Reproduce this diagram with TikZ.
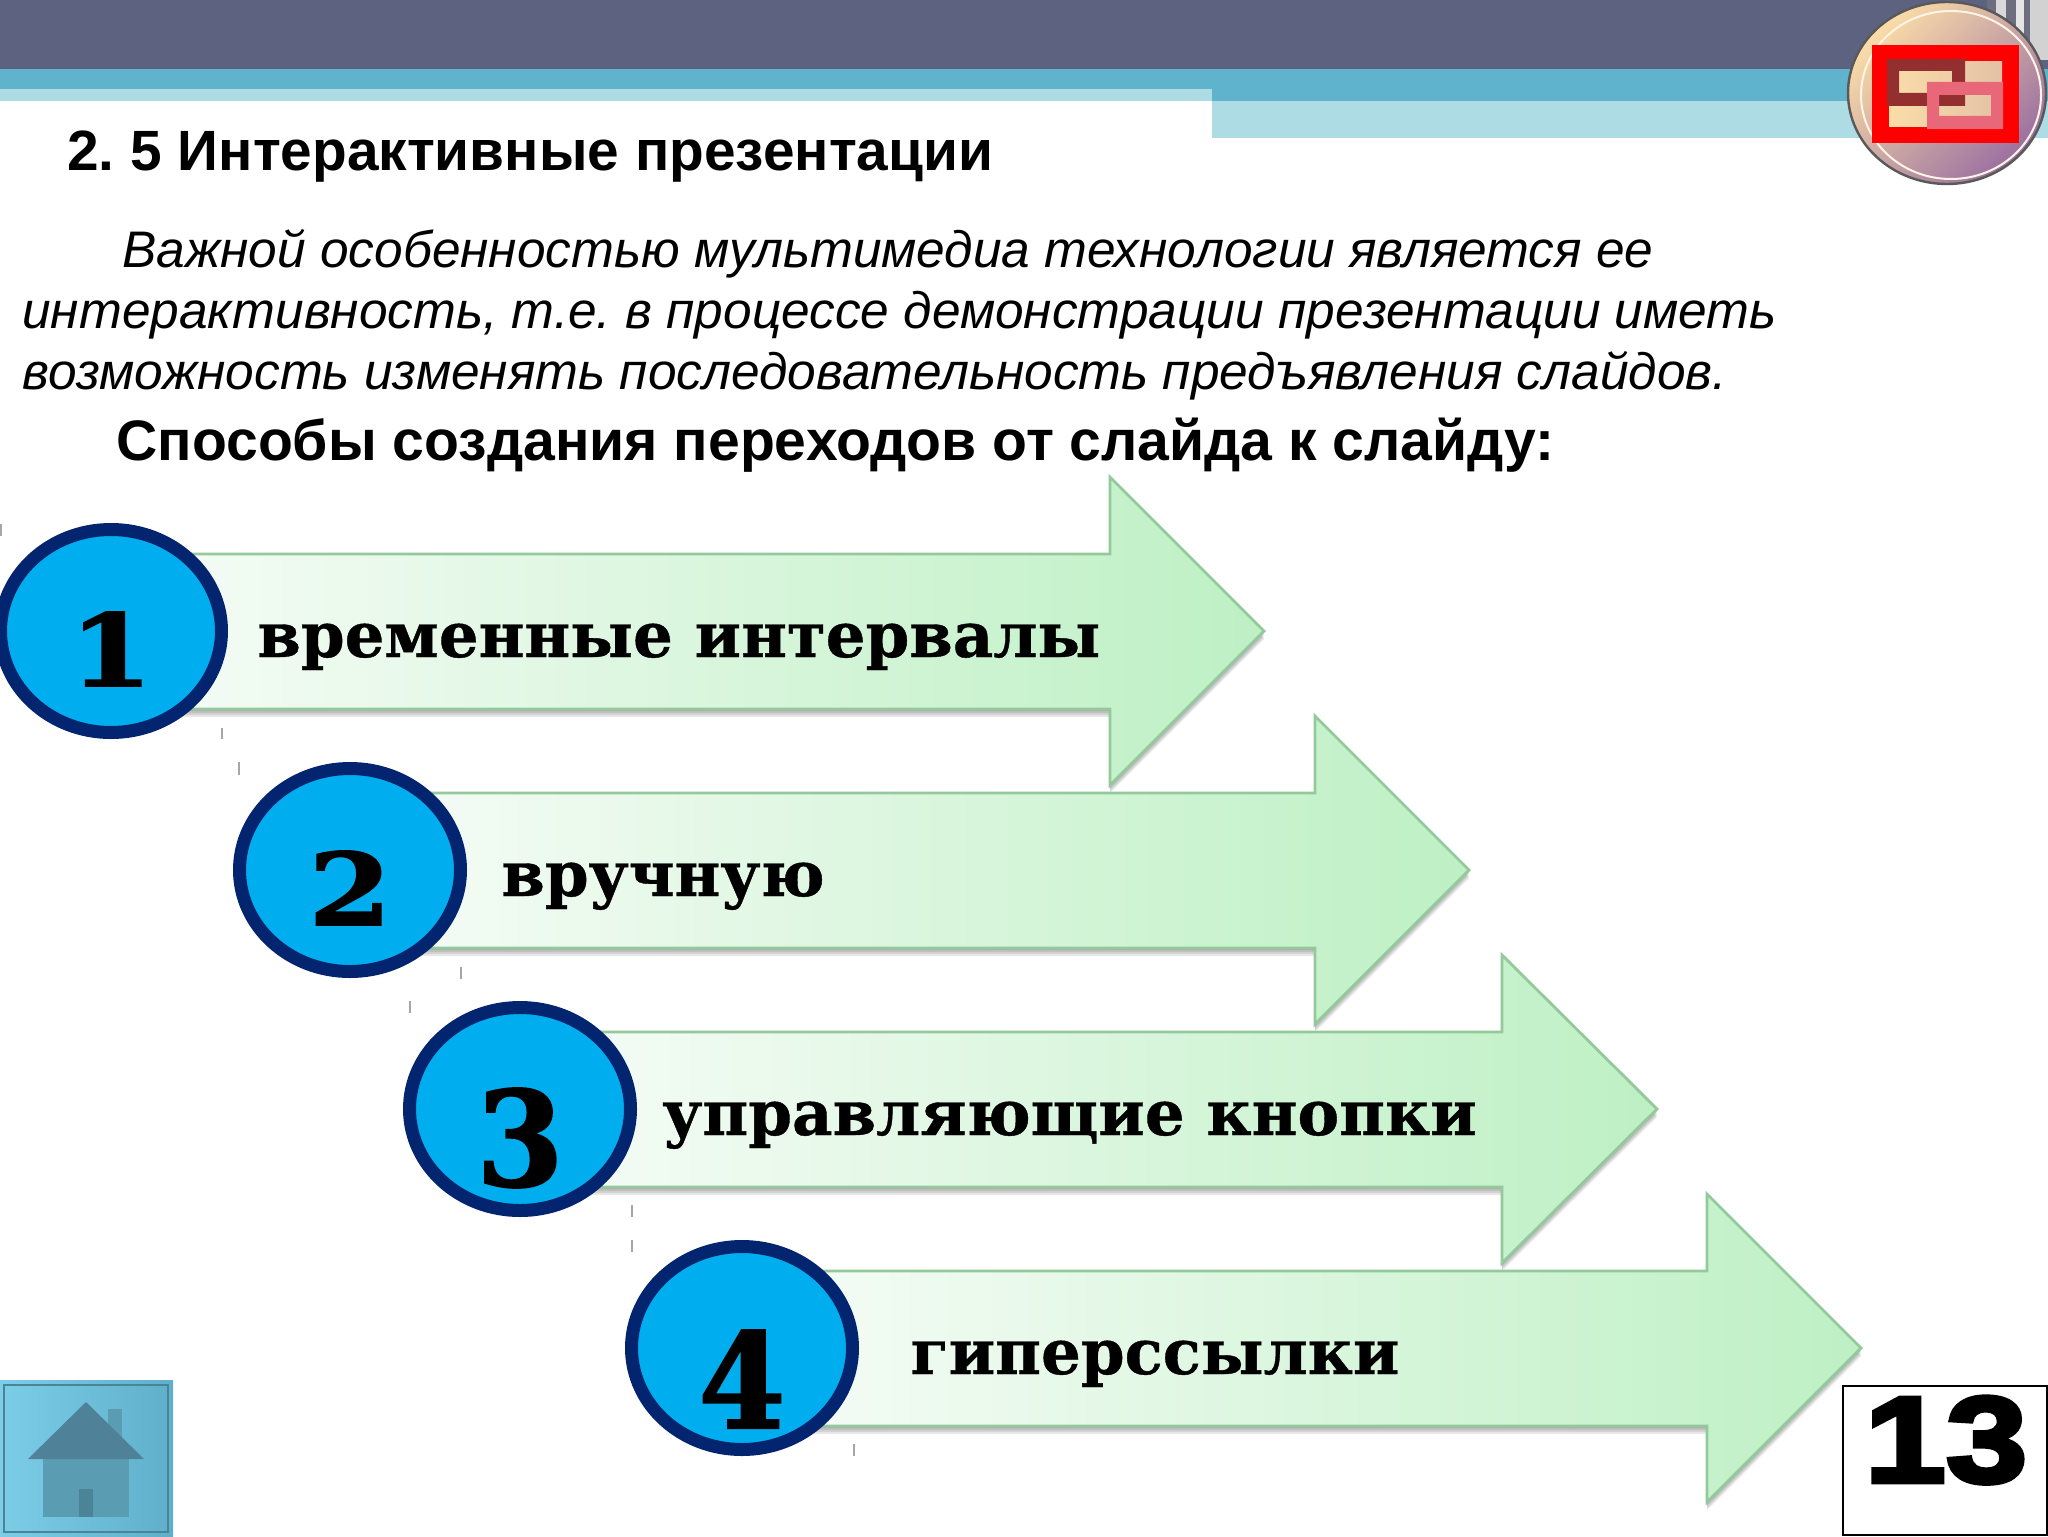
\documentclass[tikz,border=0pt]{standalone}
\usepackage{fontspec}
\setmainfont{Liberation Sans}
\newfontfamily\serifbold[UprightFont={* Bold},FakeBold=0.6]{DejaVu Serif}
\newfontfamily\serifnum[UprightFont={* Bold},FakeBold=1.5,FakeStretch=1.2]{DejaVu Serif}
\newfontfamily\serifnumtall[UprightFont={* Bold},FakeBold=1.5,FakeStretch=.95]{DejaVu Serif}
\newfontfamily\heavynum[UprightFont={* Bold},FakeBold=4,FakeStretch=1.2]{Liberation Sans}
\usetikzlibrary{shapes.geometric,shadows}
\frenchspacing
\definecolor{bandslate}{HTML}{5D6280}
\definecolor{bandteal}{HTML}{5FB3CD}
\definecolor{bandpale}{HTML}{ADDCE4}
\definecolor{arrowpale}{HTML}{F6FCF7}
\definecolor{arrowgreen}{HTML}{BEF0C4}
\definecolor{arrowline}{HTML}{93C99B}
\definecolor{discblue}{HTML}{00AEEF}
\definecolor{discnavy}{HTML}{03246E}
\definecolor{sealcream}{HTML}{FBDDA8}
\definecolor{sealpurple}{HTML}{9A6FA0}
\definecolor{darkbrick}{HTML}{942F30}
\definecolor{rosepink}{HTML}{E8687A}
\definecolor{homelight}{HTML}{7BCDE8}
\definecolor{homedark}{HTML}{5FAFCA}
\definecolor{homeroof}{HTML}{4F8199}
\definecolor{homewall}{HTML}{5A9DB3}
\definecolor{homedoor}{HTML}{4A8496}
\tikzset{
  titletext/.style={anchor=base west,inner sep=0,font=\fontsize{28.4}{30}\selectfont\bfseries},
  waystext/.style={anchor=base west,inner sep=0,font=\fontsize{28.55}{30}\selectfont\bfseries},
  bodytext/.style={anchor=base west,inner sep=0,font=\fontsize{25.7}{28}\selectfont\itshape},
  softshadow/.style={drop shadow={shadow xshift=0pt,shadow yshift=#1,opacity=.09,fill=black}},
  arrowshape/.style={left color=arrowpale,middle color=arrowpale!65!arrowgreen,right color=arrowgreen,draw=arrowline,line width=1.4pt,
    softshadow=-1pt,softshadow=-2pt,softshadow=-3pt,softshadow=-4pt},
  disc/.style={ellipse,draw=discnavy,fill=discblue,line width=6.5pt,minimum width=110.5pt,minimum height=101.5pt,inner sep=0},
  discnum/.style={anchor=base,inner sep=0,font=\fontsize{50}{50}\serifnum},
  discnumtall/.style={anchor=base,inner sep=0,font=\fontsize{66}{66}\serifnumtall},
  arrowtext/.style={anchor=base west,inner sep=0,font=\fontsize{31.3}{36}\serifbold},
  tick/.style={draw=gray!70,line width=.6pt}
}
\begin{document}
\begin{tikzpicture}[x=0.5pt,y=-0.5pt]
  \useasboundingbox (0,0) rectangle (2048,1536);
  \clip (0,0) rectangle (2048,1536);
  % top bands
  \fill[bandslate] (0,0) rectangle (2048,69);
  \fill[bandteal] (0,69) rectangle (2048,101);
  \fill[bandpale] (0,89) rectangle (1212,101);
  \fill[bandpale] (1212,101) rectangle (2048,138);
  \fill[gray!45!bandslate] (1987,0) rectangle (2048,60);
  \fill[gray!30] (1996,0) rectangle (2006,60);
  \fill[gray!20] (2016,0) rectangle (2024,60);
  \fill[gray!35] (2030,0) rectangle (2048,60);
  % seal
  \draw[draw=black!65,line width=1.2pt,top color=sealcream,middle color=sealcream,bottom color=sealpurple,shading angle=45]
    (1947,93) ellipse [x radius=99,y radius=91];
  \draw[draw=white!70!sealcream,line width=1pt] (1951,95) ellipse [x radius=90,y radius=84];
  \fill[red] (1872,45) rectangle (2019,143);
  \fill[left color=sealcream,right color=sealcream!75!sealpurple] (1889,62) rectangle (2002,126);
  \fill[darkbrick,even odd rule] (1887,59) rectangle (1965,106) (1899,71) rectangle (1952,93);
  \fill[rosepink,even odd rule] (1927,82) rectangle (2003,129) (1939,95) rectangle (1991,116);
  % text
  \node[titletext] (title) at (67,170) {2. 5 Интерактивные презентации};
  \node[bodytext] (line1) at (122,267) {Важной особенностью мультимедиа технологии является ее};
  \node[bodytext] (line2) at (22,328) {интерактивность, т.е. в процессе демонстрации презентации иметь};
  \node[bodytext] (line3) at (22,389) {возможность изменять последовательность предъявления слайдов.};
  \node[waystext] (ways) at (116,460) {Способы создания переходов от слайда к слайду:};
  % arrows
  \draw[arrowshape] (130,554) -- (1110,554) -- (1110,477) -- (1264,631) -- (1110,785) -- (1110,709) -- (130,709) -- cycle;
  \draw[arrowshape] (370,793) -- (1315,793) -- (1315,716) -- (1469,870) -- (1315,1024) -- (1315,948) -- (370,948) -- cycle;
  \draw[arrowshape] (540,1032) -- (1502,1032) -- (1502,955) -- (1657,1109) -- (1502,1263) -- (1502,1187) -- (540,1187) -- cycle;
  \draw[arrowshape] (762,1271) -- (1707,1271) -- (1707,1194) -- (1861,1348) -- (1707,1502) -- (1707,1426) -- (762,1426) -- cycle;
  \node[disc] (disc1) at (111,631) {};
  \node[disc] (disc2) at (350,870) {};
  \node[disc] (disc3) at (520,1109) {};
  \node[disc] (disc4) at (742,1348) {};
  \node[discnum] (num1) at (111,686) {1};
  \node[discnum] (num2) at (350,925) {2};
  \node[discnumtall] (num3) at (520,1186) {3};
  \node[discnumtall] (num4) at (742,1428) {4};
  \node[arrowtext] (label1) at (257,657) {временные интервалы};
  \node[arrowtext] (label2) at (501,896) {вручную};
  \node[arrowtext] (label3) at (662,1135) {управляющие кнопки};
  \node[arrowtext] (label4) at (910,1374) {гиперссылки};
  % ticks
  \draw[tick] (1,524) -- (1,536);
  \draw[tick] (222,728) -- (222,739);
  \draw[tick] (239,762) -- (239,775);
  \draw[tick] (461,967) -- (461,979);
  \draw[tick] (410,1001) -- (410,1013);
  \draw[tick] (632,1205) -- (632,1217);
  \draw[tick] (632,1240) -- (632,1252);
  \draw[tick] (854,1444) -- (854,1456);
  % home button
  \fill[left color=homelight,right color=homedark] (0,1380) rectangle (173,1536);
  \draw[draw=homedoor,line width=.8pt] (4,1385) rectangle (168,1532);
  \fill[homewall] (108,1409) rectangle (122,1450);
  \fill[homewall] (43,1459) rectangle (129,1517);
  \fill[homedoor] (79,1489) rectangle (93,1517);
  \fill[homeroof] (86,1402) -- (144,1459) -- (28,1459) -- cycle;
  % page number
  \draw[draw=black,fill=white,line width=.8pt] (1843,1386) rectangle (2047,1535);
  \node[anchor=base,inner sep=0,font=\fontsize{61}{61}\heavynum] (pagenum) at (1946,1482) {13};
\end{tikzpicture}
\end{document}
